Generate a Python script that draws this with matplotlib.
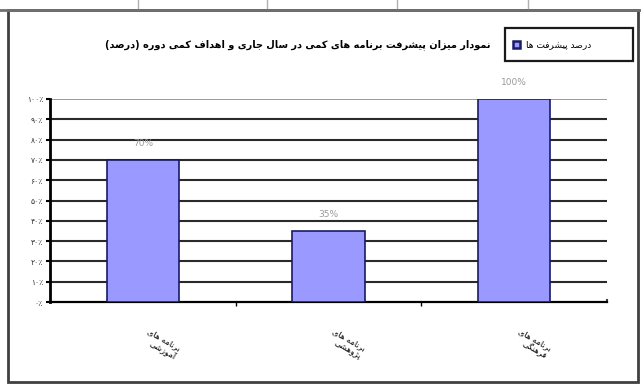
import matplotlib
matplotlib.use("Agg")
import matplotlib.pyplot as plt
from matplotlib.patches import Rectangle
from matplotlib.lines import Line2D

# Progress of the quantitative programmes, percent of target reached
CATEGORIES = ["برنامه های\nآموزشی", "برنامه های\nپژوهشی", "برنامه های\nفرهنگی"]
PROGRESS = [70, 35, 100]
VALUE_LABELS = ["70%", "35%", "100%"]
YTICKS = list(range(0, 101, 10))
TITLE = "نمودار میزان پیشرفت برنامه های کمی در سال جاری و اهداف کمی دوره (درصد)"
SERIES = "درصد پیشرفت ها"

BAR_FACE = "#9999ff"
BAR_EDGE = "#1a1a66"

# --- minimal Persian shaping: pick presentation forms, then lay out RTL ------
FORMS = {  # isolated, final, initial, medial  (two-form letters don't join forward)
    "ا": (0xFE8D, 0xFE8E), "آ": (0xFE81, 0xFE82), "د": (0xFEA9, 0xFEAA),
    "ذ": (0xFEAB, 0xFEAC), "ر": (0xFEAD, 0xFEAE), "ز": (0xFEAF, 0xFEB0),
    "ژ": (0xFB8A, 0xFB8B), "و": (0xFEED, 0xFEEE),
    "ب": (0xFE8F, 0xFE90, 0xFE91, 0xFE92), "پ": (0xFB56, 0xFB57, 0xFB58, 0xFB59),
    "ت": (0xFE95, 0xFE96, 0xFE97, 0xFE98), "ث": (0xFE99, 0xFE9A, 0xFE9B, 0xFE9C),
    "ج": (0xFE9D, 0xFE9E, 0xFE9F, 0xFEA0), "چ": (0xFB7A, 0xFB7B, 0xFB7C, 0xFB7D),
    "ح": (0xFEA1, 0xFEA2, 0xFEA3, 0xFEA4), "خ": (0xFEA5, 0xFEA6, 0xFEA7, 0xFEA8),
    "س": (0xFEB1, 0xFEB2, 0xFEB3, 0xFEB4), "ش": (0xFEB5, 0xFEB6, 0xFEB7, 0xFEB8),
    "ص": (0xFEB9, 0xFEBA, 0xFEBB, 0xFEBC), "ض": (0xFEBD, 0xFEBE, 0xFEBF, 0xFEC0),
    "ط": (0xFEC1, 0xFEC2, 0xFEC3, 0xFEC4), "ظ": (0xFEC5, 0xFEC6, 0xFEC7, 0xFEC8),
    "ع": (0xFEC9, 0xFECA, 0xFECB, 0xFECC), "غ": (0xFECD, 0xFECE, 0xFECF, 0xFED0),
    "ف": (0xFED1, 0xFED2, 0xFED3, 0xFED4), "ق": (0xFED5, 0xFED6, 0xFED7, 0xFED8),
    "ک": (0xFB8E, 0xFB8F, 0xFB90, 0xFB91), "گ": (0xFB92, 0xFB93, 0xFB94, 0xFB95),
    "ل": (0xFEDD, 0xFEDE, 0xFEDF, 0xFEE0), "م": (0xFEE1, 0xFEE2, 0xFEE3, 0xFEE4),
    "ن": (0xFEE5, 0xFEE6, 0xFEE7, 0xFEE8), "ه": (0xFEE9, 0xFEEA, 0xFEEB, 0xFEEC),
    "ی": (0xFBFC, 0xFBFD, 0xFBFE, 0xFBFF),
}
MIRROR = {"(": ")", ")": "("}


def shape_line(s):
    out = []
    for i, ch in enumerate(s):
        f = FORMS.get(ch)
        if f is None:
            out.append(MIRROR.get(ch, ch))
            continue
        prev = s[i - 1] if i > 0 else ""
        nxt = s[i + 1] if i + 1 < len(s) else ""
        jp = prev in FORMS and len(FORMS[prev]) == 4
        jn = len(f) == 4 and nxt in FORMS
        if jp and jn:
            cp = f[3]
        elif jn:
            cp = f[2]
        elif jp:
            cp = f[1]
        else:
            cp = f[0]
        out.append(chr(cp))
    return "".join(reversed(out))


def fa(s):
    return "\n".join(shape_line(l) for l in s.split("\n"))


def fa_digits(n):
    return str(n).translate(str.maketrans("0123456789", "۰۱۲۳۴۵۶۷۸۹"))


plt.rcParams["font.family"] = ["DejaVu Sans"]
W, H = 641, 384
fig = plt.figure(figsize=(W / 100, H / 100), dpi=100)


def fx(px):
    return px / W


def fy(py):
    return 1 - py / H


# spreadsheet strip and chart frame
for x in (138, 267, 397, 528):
    fig.add_artist(Line2D([fx(x), fx(x)], [fy(0), fy(10)], color="#b0b0b0", lw=1))
fig.add_artist(Line2D([0, 1], [fy(10), fy(10)], color="#707070", lw=2))
fig.add_artist(Rectangle((fx(8), fy(382)), fx(630), (372) / H, fill=False,
                         ec="#404040", lw=2))

ax = fig.add_axes([fx(50), fy(302), fx(557), 203 / H])
x = [i + 0.5 for i in range(len(PROGRESS))]
ax.bar(x, PROGRESS, width=0.39, color=BAR_FACE, edgecolor=BAR_EDGE, lw=1.2, zorder=3)
for xi, v, lab in zip(x, PROGRESS, VALUE_LABELS):
    ax.text(xi, v + 6, lab, ha="center", va="bottom", fontsize=6.5, color="#9a9a9a")

ax.set_xlim(0, len(PROGRESS))
ax.set_ylim(0, 100)
ax.set_yticks(YTICKS)
ax.set_yticklabels([fa_digits(v) + "٪" for v in YTICKS], fontsize=5.5, color="#333333")
ax.set_xticks(range(1, len(PROGRESS)))
ax.set_xticklabels([])
ax.tick_params(axis="x", direction="out", length=3, width=1)
ax.tick_params(axis="y", direction="out", length=3, width=1.5, pad=2)
for v in YTICKS[1:-1]:
    ax.axhline(v, color="#2a2a2a", lw=1.5, zorder=1)
ax.axhline(100, color="#9a9a9a", lw=1.4, zorder=1)
for side in ("top", "right"):
    ax.spines[side].set_visible(False)
ax.spines["left"].set_linewidth(2)
ax.spines["bottom"].set_linewidth(1.6)
ax.plot([1, 1], [0, 0.012], transform=ax.transAxes, color="#404040", lw=1.5, clip_on=False)

for xi, cat in zip(x, CATEGORIES):
    ax.text(xi + 0.04, -0.12, fa(cat), transform=ax.get_xaxis_transform(),
            rotation=-30, rotation_mode="anchor", ha="left", va="top",
            multialignment="right", fontsize=6, linespacing=1.1)

# title and legend, placed in figure pixels
fig.text(fx(298), fy(45), fa(TITLE), ha="center", va="center", fontsize=7,
         fontweight="bold")
fig.add_artist(Rectangle((fx(505), fy(61)), fx(128), 33 / H, fill=False,
                         ec="#1a1a1a", lw=1.6))
fig.add_artist(Rectangle((fx(513), fy(48)), fx(7), 7 / H, fc=BAR_FACE,
                         ec=BAR_EDGE, lw=1.8))
fig.text(fx(526), fy(44.5), fa(SERIES), ha="left", va="center", fontsize=6.5)

fig.savefig("out.png", dpi=100)
